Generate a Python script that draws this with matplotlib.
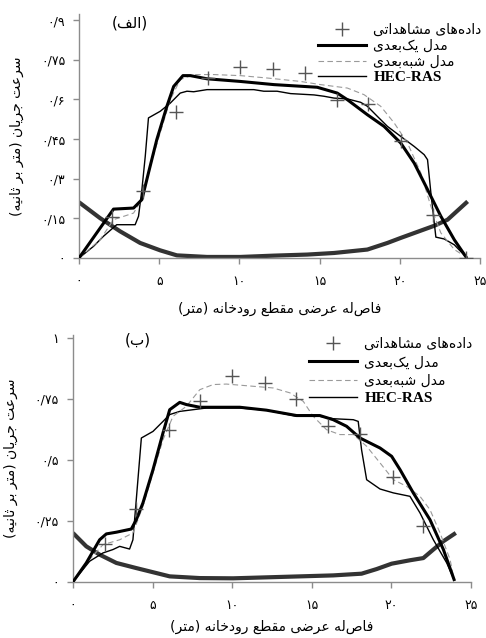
import matplotlib
matplotlib.use("Agg")
import matplotlib.pyplot as plt

# ---- data: panel (a) ----
obs_x_a = [2.04, 3.98, 6.04, 8.04, 10.06, 12.08, 14.06, 16.06, 18.04, 20.06, 22.1, 24.1]
obs_y_a = [0.155, 0.252, 0.552, 0.68, 0.721, 0.714, 0.701, 0.599, 0.583, 0.441, 0.161, 0.0]

one_x_a = [0, 2.15, 3.4, 3.92, 4.33, 4.85, 5.48, 5.9, 6.48, 6.94, 7.98, 10.06, 12.15, 14.85,
           16.1, 16.73, 17.98, 19.02, 20.06, 20.9, 21.73, 22.56, 23.4, 24.13]
one_y_a = [0, 0.185, 0.189, 0.221, 0.322, 0.448, 0.574, 0.649, 0.69, 0.69, 0.678, 0.668, 0.656,
           0.646, 0.624, 0.599, 0.542, 0.498, 0.435, 0.359, 0.259, 0.158, 0.069, 0.004]

quasi_x_a = [0, 1.31, 2.15, 3.4, 3.92, 4.44, 5.06, 5.69, 6.31, 7.15, 8.4, 10.06, 11.73, 13.81,
             15.06, 16.73, 17.77, 18.81, 19.65, 20.48, 21.31, 21.94, 22.56, 23.4, 24.13]
quasi_y_a = [0, 0.069, 0.145, 0.17, 0.221, 0.347, 0.473, 0.599, 0.675, 0.694, 0.694, 0.69, 0.681,
             0.668, 0.656, 0.643, 0.618, 0.574, 0.511, 0.435, 0.322, 0.195, 0.095, 0.032, 0.004]

hec_x_a = [0, 0.9, 1.52, 2.35, 3.5, 3.71, 3.92, 4.13, 4.33, 5.06, 5.69, 6.31, 6.73, 7.15, 7.98,
           10.9, 11.52, 12.35, 13.19, 14.65, 15.27, 15.9, 16.73, 17.56, 17.98, 18.6, 19.23,
           20.06, 20.9, 21.52, 21.73, 21.94, 22.25, 22.77, 23.4, 24.13]
hec_y_a = [0, 0.044, 0.082, 0.126, 0.126, 0.158, 0.259, 0.385, 0.53, 0.555, 0.586, 0.624, 0.631,
           0.629, 0.637, 0.637, 0.631, 0.631, 0.622, 0.617, 0.612, 0.605, 0.602, 0.589, 0.574,
           0.536, 0.498, 0.46, 0.422, 0.391, 0.372, 0.246, 0.079, 0.072, 0.05, 0.004]

bed_x_a = [0, 1.31, 2.56, 3.81, 5.06, 6.1, 7.98, 10.06, 12.15, 14.23, 15.9, 17.98, 19.23, 20.06,
           22.15, 22.98, 24.23]
bed_y_a = [0.211, 0.151, 0.101, 0.057, 0.029, 0.01, 0.004, 0.004, 0.009, 0.013, 0.019, 0.032,
           0.057, 0.076, 0.122, 0.145, 0.214]

# ---- data: panel (b) ----
obs_x_b = [2.01, 3.96, 6.04, 7.97, 10.0, 12.07, 14.0, 16.04, 18.03, 20.08, 21.97]
obs_y_b = [0.157, 0.301, 0.624, 0.74, 0.846, 0.816, 0.75, 0.641, 0.607, 0.429, 0.228]

one_x_b = [0, 0.84, 1.68, 2.1, 2.73, 3.67, 3.98, 4.4, 5.03, 5.66, 6.08, 6.71, 7.13, 7.97, 10.48,
           12.16, 14.05, 15.51, 16.35, 17.19, 18.03, 19.29, 20.02, 20.55, 21.38, 22.43, 23.27, 23.94]
one_y_b = [0, 0.078, 0.173, 0.197, 0.204, 0.217, 0.255, 0.324, 0.46, 0.611, 0.706, 0.736, 0.727,
           0.716, 0.716, 0.704, 0.682, 0.682, 0.665, 0.638, 0.59, 0.549, 0.515, 0.46, 0.365,
           0.255, 0.133, 0.01]

quasi_x_b = [0, 1.05, 1.89, 2.94, 3.77, 4.4, 5.03, 5.66, 6.29, 7.13, 7.97, 8.81, 9.64, 11.32,
             12.58, 13.63, 14.47, 15.09, 15.93, 16.77, 17.61, 18.45, 19.29, 20.13, 20.96, 21.8,
             22.43, 23.06, 23.69, 23.94]
quasi_y_b = [0, 0.092, 0.153, 0.173, 0.201, 0.31, 0.447, 0.583, 0.679, 0.72, 0.788, 0.809, 0.811,
             0.802, 0.795, 0.775, 0.74, 0.679, 0.624, 0.604, 0.604, 0.556, 0.488, 0.419, 0.392,
             0.351, 0.296, 0.201, 0.092, 0.01]

hec_x_b = [0, 1.05, 1.89, 2.52, 2.94, 3.56, 3.77, 3.98, 4.3, 5.03, 5.66, 6.08, 6.71, 7.55, 8.39,
           10.48, 12.16, 14.05, 15.51, 16.35, 17.61, 17.92, 18.13, 18.45, 19.29, 20.13, 21.17,
           21.8, 22.64, 23.48, 23.94]
hec_y_b = [0, 0.085, 0.119, 0.133, 0.146, 0.135, 0.173, 0.337, 0.59, 0.617, 0.658, 0.686, 0.699,
           0.706, 0.713, 0.713, 0.704, 0.679, 0.679, 0.669, 0.665, 0.658, 0.542, 0.419, 0.381,
           0.365, 0.351, 0.283, 0.173, 0.078, 0.01]

bed_x_b = [0, 0.84, 1.68, 2.73, 3.98, 5.03, 6.08, 7.97, 10.06, 12.16, 14.26, 16.35, 18.13, 19.08,
           20.02, 21.17, 22.01, 22.64, 23.27, 24.05]
bed_y_b = [0.201, 0.146, 0.112, 0.078, 0.057, 0.04, 0.023, 0.016, 0.015, 0.019, 0.023, 0.027,
           0.034, 0.053, 0.075, 0.089, 0.098, 0.133, 0.167, 0.201]

x_ticks = [0, 5, 10, 15, 20, 25]
x_labels = ['۰', '۵', '۱۰', '۱۵', '۲۰', '۲۵']
y_ticks_a = [0, 0.15, 0.3, 0.45, 0.6, 0.75, 0.9]
y_labels_a = ['۰', '۰/۱۵', '۰/۳', '۰/۴۵', '۰/۶', '۰/۷۵', '۰/۹']
y_ticks_b = [0, 0.25, 0.5, 0.75, 1.0]
y_labels_b = ['۰', '۰/۲۵', '۰/۵', '۰/۷۵', '۱']

lbl_obs = 'داده‌های مشاهداتی'
lbl_one = 'مدل یک‌بعدی'
lbl_quasi = 'مدل شبه‌بعدی'
lbl_hec = 'HEC-RAS'
xlabel = 'فاصله عرضی مقطع رودخانه (متر)'
ylabel = 'سرعت جریان (متر بر ثانیه)'


# minimal Persian shaping (matplotlib has no RTL / joining support)
FORMS = {  # isolated, final, initial, medial
    'ا': ('\uFE8D', '\uFE8E', None, None),
    'ب': ('\uFE8F', '\uFE90', '\uFE91', '\uFE92'),
    'ت': ('\uFE95', '\uFE96', '\uFE97', '\uFE98'),
    'ث': ('\uFE99', '\uFE9A', '\uFE9B', '\uFE9C'),
    'ج': ('\uFE9D', '\uFE9E', '\uFE9F', '\uFEA0'),
    'خ': ('\uFEA5', '\uFEA6', '\uFEA7', '\uFEA8'),
    'د': ('\uFEA9', '\uFEAA', None, None),
    'ر': ('\uFEAD', '\uFEAE', None, None),
    'س': ('\uFEB1', '\uFEB2', '\uFEB3', '\uFEB4'),
    'ش': ('\uFEB5', '\uFEB6', '\uFEB7', '\uFEB8'),
    'ض': ('\uFEBD', '\uFEBE', '\uFEBF', '\uFEC0'),
    'ط': ('\uFEC1', '\uFEC2', '\uFEC3', '\uFEC4'),
    'ع': ('\uFEC9', '\uFECA', '\uFECB', '\uFECC'),
    'ف': ('\uFED1', '\uFED2', '\uFED3', '\uFED4'),
    'ق': ('\uFED5', '\uFED6', '\uFED7', '\uFED8'),
    'ک': ('\uFB8E', '\uFB8F', '\uFB90', '\uFB91'),
    'ل': ('\uFEDD', '\uFEDE', '\uFEDF', '\uFEE0'),
    'م': ('\uFEE1', '\uFEE2', '\uFEE3', '\uFEE4'),
    'ن': ('\uFEE5', '\uFEE6', '\uFEE7', '\uFEE8'),
    'ه': ('\uFEE9', '\uFEEA', '\uFEEB', '\uFEEC'),
    'و': ('\uFEED', '\uFEEE', None, None),
    'ی': ('\uFBFC', '\uFBFD', '\uFBFE', '\uFBFF'),
}
MIRROR = {'(': ')', ')': '('}


def fa(s):
    out = []
    for i, c in enumerate(s):
        if c not in FORMS:
            if c != '\u200c':
                out.append(MIRROR.get(c, c))
            continue
        prev = s[i - 1] if i > 0 else ''
        nxt = s[i + 1] if i + 1 < len(s) else ''
        join_prev = prev in FORMS and FORMS[prev][2] is not None
        join_next = nxt in FORMS and FORMS[c][2] is not None
        iso, fin, ini, med = FORMS[c]
        if join_prev and join_next:
            out.append(med)
        elif join_prev:
            out.append(fin)
        elif join_next:
            out.append(ini)
        else:
            out.append(iso)
    return ''.join(reversed(out))


plt.rcParams['font.family'] = ['DejaVu Sans']
AX_GRAY = '#8c8c8c'

fig = plt.figure(figsize=(4.86, 6.38), dpi=100)
ax_a = fig.add_axes([0.1626, 0.5956, 0.825, 0.3824])
ax_b = fig.add_axes([0.150, 0.0878, 0.819, 0.3871])

panels = [
    (ax_a, obs_x_a, obs_y_a, one_x_a, one_y_a, quasi_x_a, quasi_y_a, hec_x_a, hec_y_a,
     bed_x_a, bed_y_a, y_ticks_a, y_labels_a, 0.923, '(الف)', (3.2, 0.89), 0.15, 1.0, 10),
    (ax_b, obs_x_b, obs_y_b, one_x_b, one_y_b, quasi_x_b, quasi_y_b, hec_x_b, hec_y_b,
     bed_x_b, bed_y_b, y_ticks_b, y_labels_b, 1.012, '(ب)', (4.1, 0.99), 0.3, 1.025, 6),
]

for (ax, ox, oy, x1, y1, xq, yq, xh, yh, xb, yb, yt, yl, ytop, tag, tagpos, lspace,
     ltop, xpad) in panels:
    ax.plot(xb, yb, color='#333333', lw=3.0, solid_capstyle='butt', zorder=2)
    ax.plot(xh, yh, color='black', lw=1.0, label=lbl_hec, zorder=3)
    ax.plot(xq, yq, color='#9a9a9a', lw=0.8, ls=(0, (5, 3)), label=fa(lbl_quasi), zorder=3)
    ax.plot(x1, y1, color='black', lw=2.2, label=fa(lbl_one), zorder=4)
    ax.plot(ox, oy, ls='none', marker='+', ms=10, mew=1.0, color='#555555',
            label=fa(lbl_obs), zorder=5)

    ax.set_xlim(0, 25)
    ax.set_ylim(0, ytop)
    ax.set_xticks(x_ticks)
    ax.set_xticklabels(x_labels, fontsize=9)
    ax.set_yticks(yt)
    ax.set_yticklabels(yl, fontsize=9)
    for sp in ('top', 'right'):
        ax.spines[sp].set_visible(False)
    for sp in ('left', 'bottom'):
        ax.spines[sp].set_color(AX_GRAY)
        ax.spines[sp].set_linewidth(1.0)
    ax.tick_params(axis='both', direction='out', length=4, color=AX_GRAY, width=1.0)
    ax.tick_params(axis='x', pad=8)
    ax.tick_params(axis='y', pad=6)

    ax.set_xlabel(fa(xlabel), fontsize=10, labelpad=xpad)
    ax.set_ylabel(fa(ylabel), fontsize=10, labelpad=12)
    ax.text(tagpos[0], tagpos[1], fa(tag), fontsize=11, ha='center', va='center')

    handles, labels = ax.get_legend_handles_labels()
    order = [3, 2, 1, 0]
    leg = ax.legend([handles[i] for i in order], [labels[i] for i in order],
                    loc='upper right', bbox_to_anchor=(1.025, ltop), frameon=False,
                    fontsize=10, handlelength=3.5, handletextpad=0.5,
                    labelspacing=lspace, borderaxespad=0.2)
    for t in leg.get_texts():
        if t.get_text() == lbl_hec:
            t.set_fontfamily('Liberation Serif')
            t.set_fontweight('bold')
            t.set_fontsize(11)

fig.savefig('out.png', dpi=100)
